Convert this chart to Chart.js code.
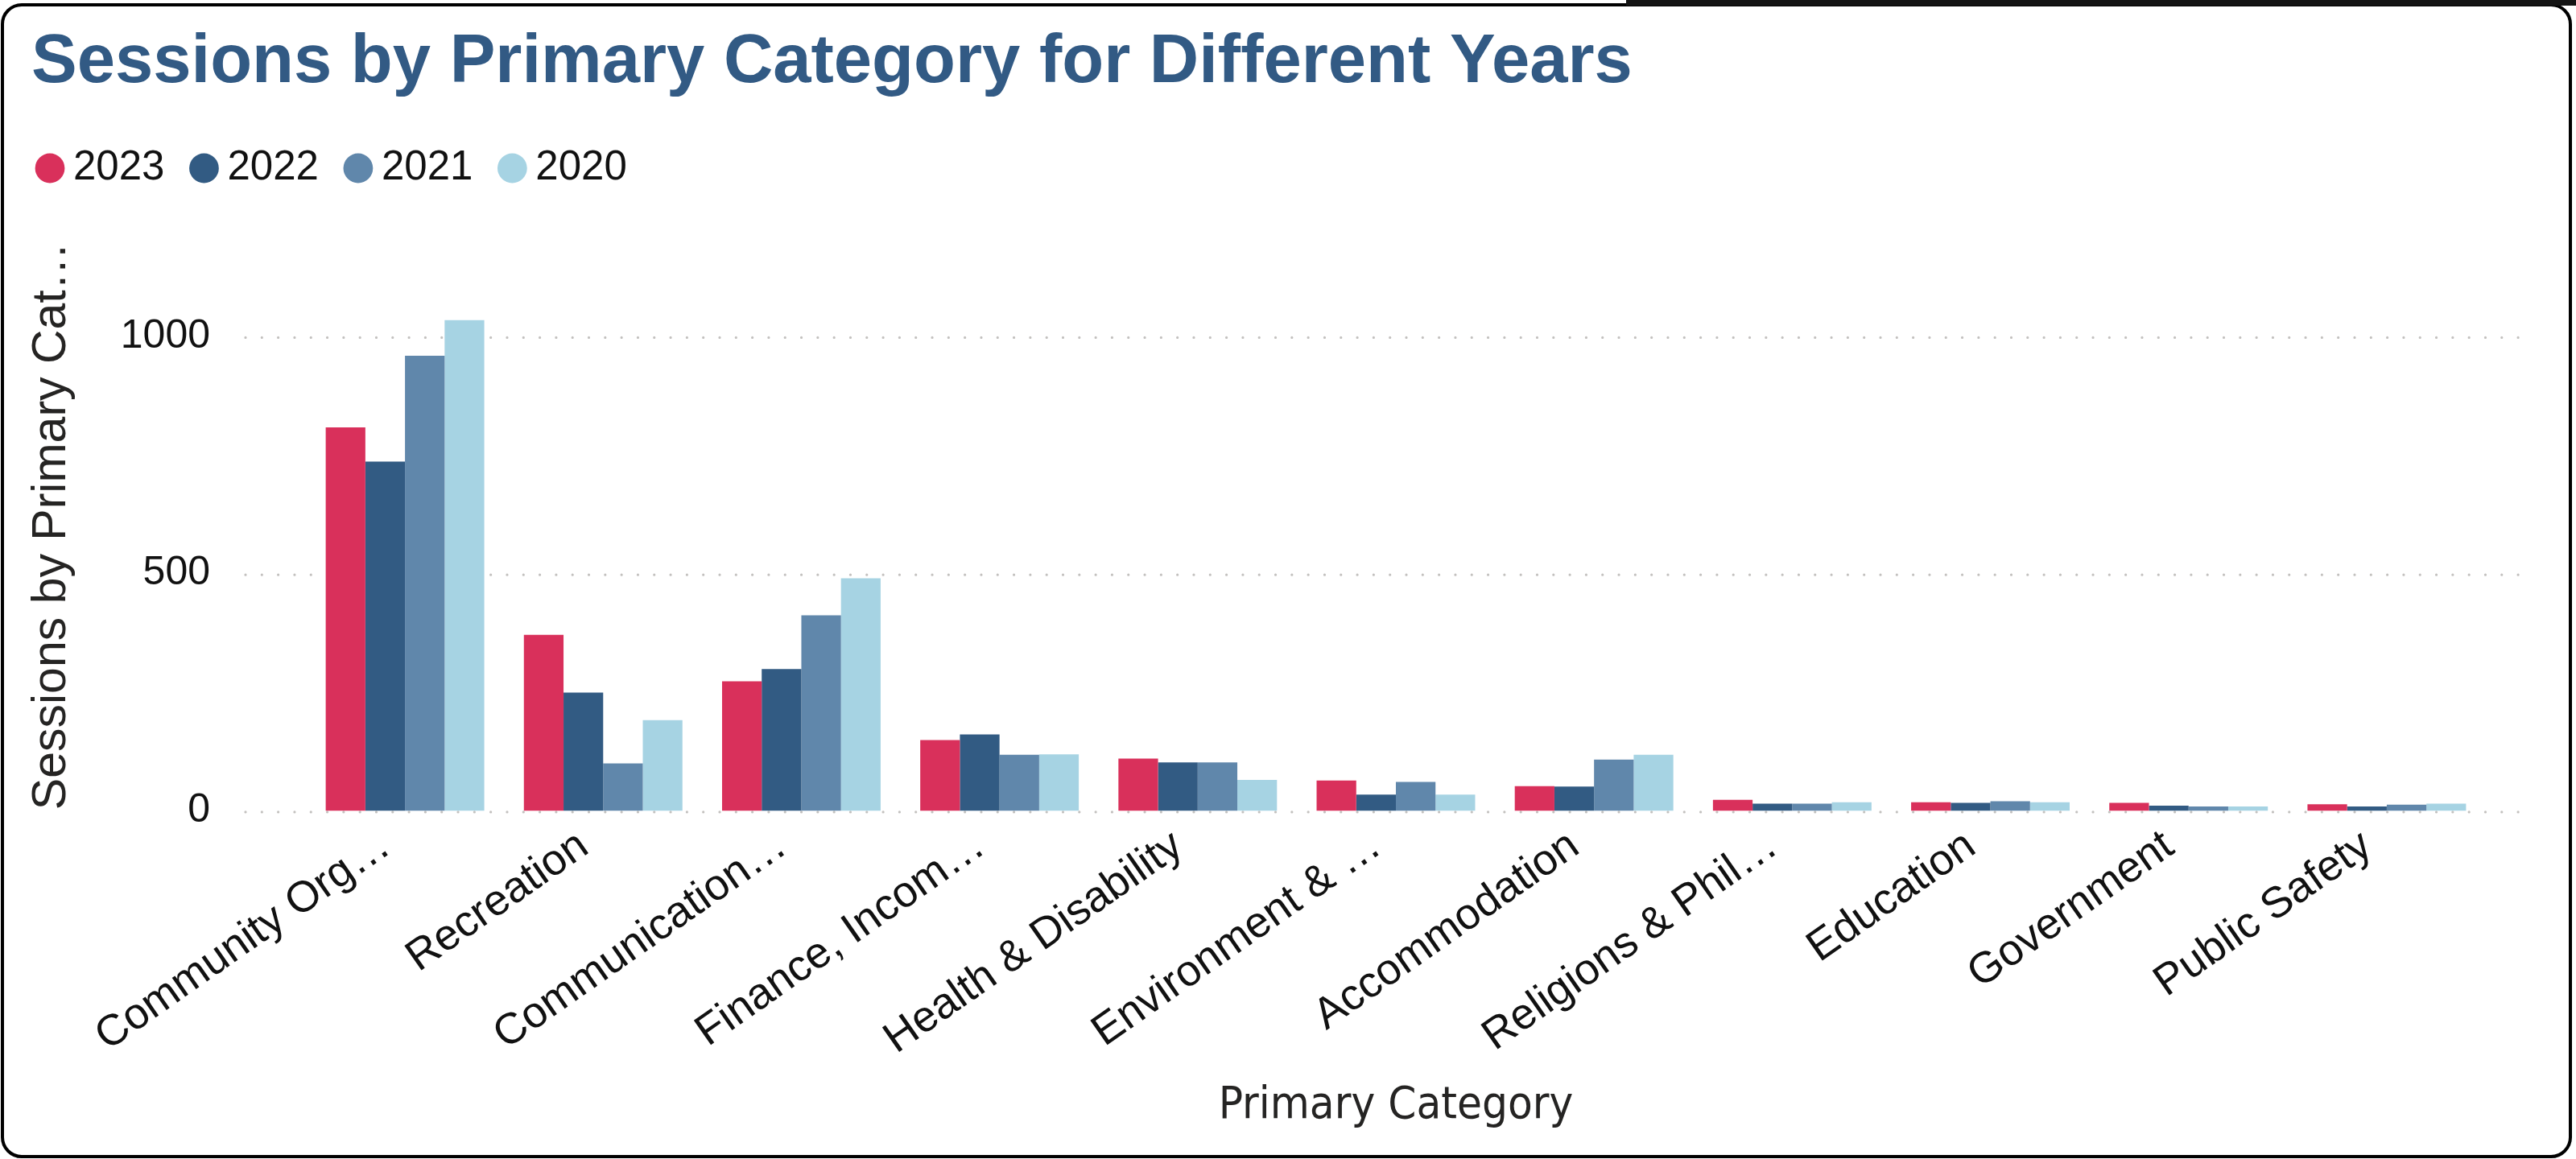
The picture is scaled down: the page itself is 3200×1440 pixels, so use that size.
<!DOCTYPE html>
<html>
<head>
<meta charset="utf-8">
<script src="https://cdn.jsdelivr.net/npm/chart.js@4.4.1/dist/chart.umd.min.js"></script>
<style>
html,body{margin:0;padding:0;background:#fff;}
#wrap{position:absolute;left:0;top:0;width:3200px;height:1440px;}
#card{position:absolute;left:1px;top:4px;width:3194px;height:1435px;box-sizing:border-box;border:4px solid #000;border-radius:26px;pointer-events:none;}
#tab{position:absolute;left:2020px;top:0;width:1180px;height:7px;background:#141414;pointer-events:none;}
</style>
</head>
<body>
<div id="wrap"><canvas id="c"></canvas></div>
<div id="card"></div>
<div id="tab"></div>
<script>
// ---- data ----
const categories = ['Community Org…', 'Recreation', 'Communication…', 'Finance, Incom…', 'Health & Disability', 'Environment & …', 'Accommodation', 'Religions & Phil…', 'Education', 'Government', 'Public Safety'];
const years = ['2023', '2022', '2021', '2020'];
const sessions2023 = [808, 371, 273, 149, 110, 64, 52, 23, 18, 17, 14];
const sessions2022 = [736, 249, 299, 161, 102, 34, 51, 15, 17, 11, 9];
const sessions2021 = [959, 100, 412, 118, 102, 61, 108, 15, 20, 9, 13];
const sessions2020 = [1034, 191, 490, 119, 65, 34, 118, 18, 18, 9, 15];
const yTickValues = [0, 500, 1000];
const yTickLabels = ['0', '500', '1000'];
const yMax = 1200;
const seriesColors = ['#D9305B', '#325B83', '#6087AB', '#A6D3E3'];

const FONT = "'Liberation Sans', Arial, sans-serif";

// spacer box between legend and plot
const legendSpacer = {
  id: 'legendSpacer',
  beforeInit(chart) {
    const box = {
      position: 'top', weight: 500, fullSize: true, options: {},
      left: 0, top: 0, right: 0, bottom: 0, width: 0, height: 0,
      isHorizontal() { return true; },
      update(maxWidth) { this.width = maxWidth; this.height = 55.5; return this; },
      draw() {}
    };
    Chart.layouts.addBox(chart, box);
  }
};

// shift title to its own left inset
const titleInset = {
  id: 'titleInset',
  afterLayout(chart) {
    const t = chart.titleBlock;
    if (t) { t.left += 26; t.right += 26; }
  }
};

// dotted gridlines extending past plot like the reference
const dottedGrid = {
  id: 'dottedGrid',
  beforeDatasetsDraw(chart) {
    const {ctx, chartArea} = chart;
    const ys = chart.scales.y;
    ctx.save();
    ctx.strokeStyle = '#C3C1BF';
    ctx.lineWidth = 3.2;
    ctx.lineCap = 'round';
    ctx.setLineDash([0.01, 20.3]);
    const x0 = chartArea.left - 75, x1 = chartArea.right + 57;
    ys.ticks.forEach(t => {
      const py = ys.getPixelForValue(t.value) + 1.5;
      ctx.beginPath();
      ctx.moveTo(x0, py);
      ctx.lineTo(x1, py);
      ctx.stroke();
    });
    ctx.restore();
  }
};

const seriesData = [sessions2023, sessions2022, sessions2021, sessions2020];

new Chart(document.getElementById('c'), {
  type: 'bar',
  data: {
    labels: categories,
    datasets: years.map((y, i) => ({
      label: y,
      data: seriesData[i],
      backgroundColor: seriesColors[i],
      borderWidth: 0,
      categoryPercentage: 0.8,
      barPercentage: 1.0
    }))
  },
  plugins: [legendSpacer, titleInset, dottedGrid],
  options: {
    responsive: true,
    maintainAspectRatio: false,
    animation: false,
    layout: { padding: { top: 10, left: 13, right: 112, bottom: 10 } },
    plugins: {
      tooltip: { enabled: false },
      title: {
        display: true,
        text: 'Sessions by Primary Category for Different Years',
        align: 'start',
        color: '#325A84',
        font: { family: FONT, size: 85, weight: 'bold', lineHeight: 1.2 },
        padding: { top: 18, bottom: 8 }
      },
      legend: {
        display: true,
        position: 'top',
        align: 'start',
        labels: {
          usePointStyle: true,
          pointStyle: 'circle',
          boxWidth: 7,
          boxHeight: 26,
          padding: 45.5,
          color: '#111',
          font: { family: FONT, size: 51 }
        }
      }
    },
    scales: {
      x: {
        grid: { display: false, drawTicks: false },
        border: { display: false },
        ticks: {
          autoSkip: false,
          minRotation: 35,
          maxRotation: 35,
          padding: 12,
          labelOffset: -24,
          color: '#111',
          font: { family: FONT, size: 54 }
        },
        title: {
          display: true,
          text: 'Primary Category',
          color: '#252423',
          font: { family: "'DejaVu Sans Condensed', 'DejaVu Sans', sans-serif", size: 56, lineHeight: 1.2 },
          padding: { top: 0, bottom: 22.4 }
        },
        afterFit(scale) { scale.height = 1440 - 10 - 1007.4; }
      },
      y: {
        min: 0,
        max: yMax,
        grid: { display: false, drawTicks: false },
        border: { display: false },
        afterBuildTicks(scale) { scale.ticks = yTickValues.map(v => ({ value: v })); },
        ticks: {
          padding: 119,
          color: '#111',
          font: { family: FONT, size: 50 },
          callback: (value) => yTickLabels[yTickValues.indexOf(value)] ?? String(value)
        },
        title: {
          display: true,
          text: 'Sessions by Primary Cat…',
          color: '#252423',
          font: { family: FONT, size: 59, lineHeight: 1.2 },
          padding: { top: 16, bottom: 0 }
        },
        afterFit(scale) { scale.width = 367; }
      }
    }
  }
});
</script>
</body>
</html>
